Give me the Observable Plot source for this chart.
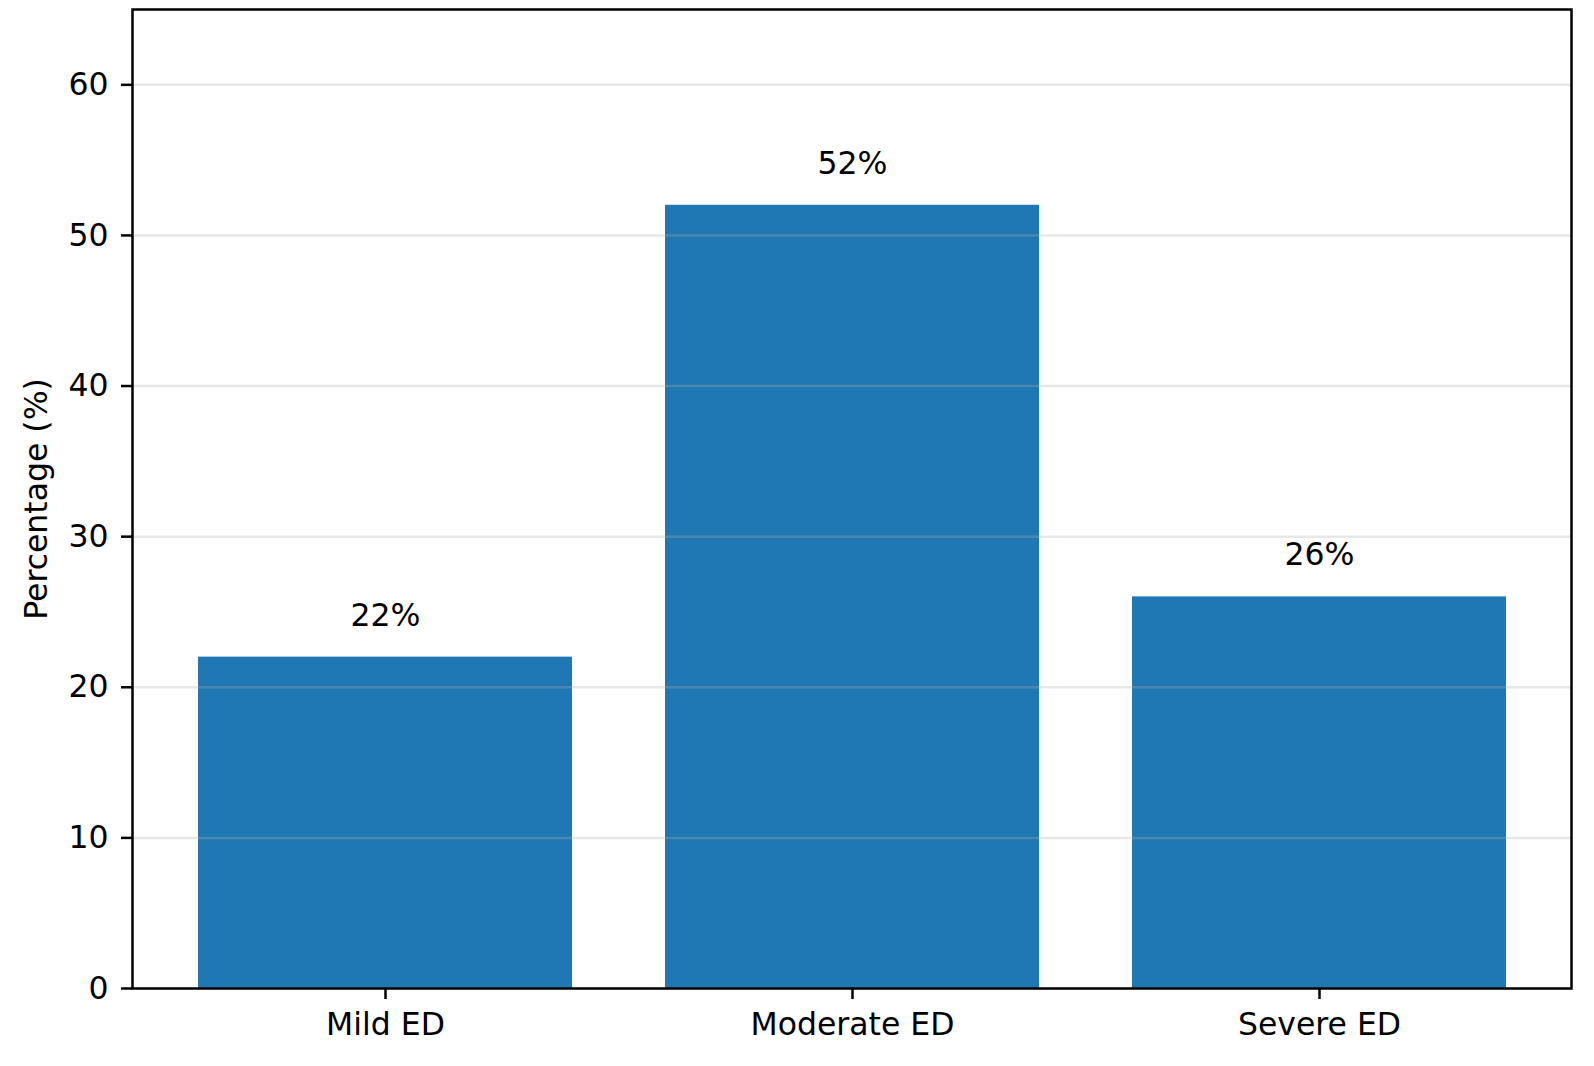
<!DOCTYPE html>
<html>
<head>
<meta charset="utf-8">
<script src="https://cdn.jsdelivr.net/npm/d3@7"></script>
<script src="https://cdn.jsdelivr.net/npm/@observablehq/plot@0.6"></script>
<style>
  html, body { margin: 0; padding: 0; background: white; }
  #chart svg { display: block; }
</style>
</head>
<body>
<div id="chart"></div>
<script>
const categories = ["Mild ED", "Moderate ED", "Severe ED"];
const values = [22, 52, 26];
const valueLabels = ["22%", "52%", "26%"];
const yTicks = [0, 10, 20, 30, 40, 50, 60];

const data = categories.map((c, i) => ({category: c, value: values[i], label: valueLabels[i]}));
const FS = 31.5;

const chart = Plot.plot({
  width: 1594,
  height: 1066,
  marginLeft: 132,
  marginRight: 23,
  marginTop: 9,
  marginBottom: 78,
  style: {fontFamily: "DejaVu Sans", fontSize: FS + "px", background: "white", color: "black"},
  x: {domain: categories, paddingInner: 0.2, paddingOuter: 0.14, align: 0.5},
  y: {domain: [0, 65]},
  marks: [
    Plot.barY(data, {x: "category", y: "value", fill: "#1f77b4"}),
    Plot.gridY(yTicks, {stroke: "#b0b0b0", strokeOpacity: 0.3, strokeWidth: 2.5}),
    Plot.text(data, {x: "category", y: d => d.value + 2.1, text: "label", lineAnchor: "bottom", fontSize: FS, fill: "black"}),
    Plot.axisX({tickSize: 11, tickPadding: 13, strokeWidth: 2.5, fontSize: FS, label: null, stroke: "black"}),
    Plot.axisY({ticks: yTicks, tickSize: 11, tickPadding: 13, strokeWidth: 2.5, fontSize: FS, label: "Percentage (%)", labelAnchor: "center", labelArrow: "none", labelOffset: 108, stroke: "black"}),
    Plot.frame({stroke: "black", strokeWidth: 2.5})
  ]
});
document.getElementById("chart").appendChild(chart);
</script>
</body>
</html>
